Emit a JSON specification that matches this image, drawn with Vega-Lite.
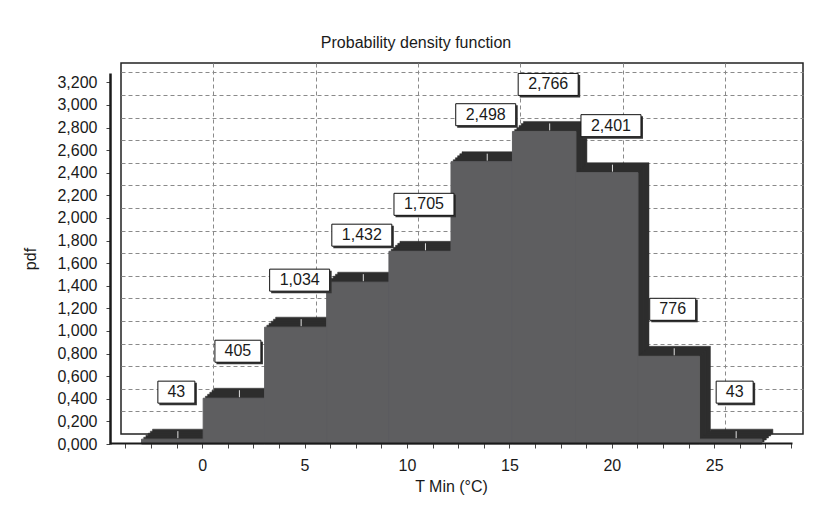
{
  "$schema": "https://vega.github.io/schema/vega-lite/v6.json",
  "width": 682,
  "height": 371,
  "autosize": "none",
  "padding": {"left": 121, "top": 63, "right": 11, "bottom": 80},
  "background": "white",
  "title": {
    "text": "Probability density function",
    "anchor": "middle",
    "dx": -46,
    "offset": 12,
    "fontSize": 16,
    "fontWeight": "normal",
    "font": "Liberation Sans",
    "color": "#1a1a1a"
  },
  "config": {
    "view": {"stroke": "#222", "strokeWidth": 1.5},
    "font": "Liberation Sans",
    "axis": {
      "labelFont": "Liberation Sans",
      "titleFont": "Liberation Sans",
      "labelFontSize": 16,
      "titleFontSize": 16,
      "titleFontWeight": "normal",
      "labelColor": "#1a1a1a",
      "titleColor": "#1a1a1a"
    }
  },
  "data": {
    "values": [
      {"x0": -2.96, "x1": 0.05, "mid": -1.455, "pdf": 0.043, "label": "43"},
      {"x0": 0.05, "x1": 3.05, "mid": 1.55, "pdf": 0.405, "label": "405"},
      {"x0": 3.05, "x1": 6.08, "mid": 4.565, "pdf": 1.034, "label": "1,034"},
      {"x0": 6.08, "x1": 9.12, "mid": 7.6, "pdf": 1.432, "label": "1,432"},
      {"x0": 9.12, "x1": 12.15, "mid": 10.635, "pdf": 1.705, "label": "1,705"},
      {"x0": 12.15, "x1": 15.15, "mid": 13.65, "pdf": 2.498, "label": "2,498"},
      {"x0": 15.15, "x1": 18.25, "mid": 16.7, "pdf": 2.766, "label": "2,766"},
      {"x0": 18.25, "x1": 21.28, "mid": 19.765, "pdf": 2.401, "label": "2,401"},
      {"x0": 21.28, "x1": 24.28, "mid": 22.78, "pdf": 0.776, "label": "776"},
      {"x0": 24.28, "x1": 27.33, "mid": 25.805, "pdf": 0.043, "label": "43"}
    ]
  },
  "resolve": {"axis": {"x": "independent", "y": "independent"}},
  "layer": [
    {
      "mark": {"type": "rect", "color": "#2e2e2e", "stroke": "#2e2e2e", "strokeWidth": 0.5},
      "encoding": {
        "x": {"field": "x0", "type": "quantitative", "scale": {"domain": [-4.5, 28.8], "nice": false, "zero": false},
          "axis": {"orient": "bottom", "grid": true, "values": [0, 5, 10, 15, 20, 25], "gridDash": [4, 3], "gridColor": "#8a8a8a", "gridWidth": 1, "gridOpacity": 1, "domain": false, "ticks": false, "labels": false, "title": null, "zindex": 0}},
        "x2": {"field": "x1"},
        "y": {"field": "pdf", "type": "quantitative", "scale": {"domain": [0, 3.283], "nice": false, "zero": false},
          "axis": {"orient": "left", "grid": true, "values": [0.2, 0.4, 0.6, 0.8, 1.0, 1.2, 1.4, 1.6, 1.8, 2.0, 2.2, 2.4, 2.6, 2.8, 3.0, 3.2], "gridDash": [4, 3], "gridColor": "#8a8a8a", "gridWidth": 1, "gridOpacity": 1, "domain": false, "ticks": false, "labels": false, "title": null, "zindex": 0}},
        "y2": {"datum": 0}
      }
    },
    {
      "mark": {"type": "rect", "color": "#2e2e2e", "stroke": "#2e2e2e", "strokeWidth": 0.5, "xOffset": -2.2, "x2Offset": -2.2, "yOffset": 2, "y2Offset": 2},
      "encoding": {
        "x": {"field": "x0", "type": "quantitative", "scale": {"domain": [-4.5, 28.8], "nice": false, "zero": false}, "axis": null},
        "x2": {"field": "x1"},
        "y": {"field": "pdf", "type": "quantitative", "scale": {"domain": [0, 3.283], "nice": false, "zero": false}, "axis": null},
        "y2": {"datum": 0}
      }
    },
    {
      "mark": {"type": "rect", "color": "#2e2e2e", "stroke": "#2e2e2e", "strokeWidth": 0.5, "xOffset": -4.4, "x2Offset": -4.4, "yOffset": 4, "y2Offset": 4},
      "encoding": {
        "x": {"field": "x0", "type": "quantitative", "scale": {"domain": [-4.5, 28.8], "nice": false, "zero": false}, "axis": null},
        "x2": {"field": "x1"},
        "y": {"field": "pdf", "type": "quantitative", "scale": {"domain": [0, 3.283], "nice": false, "zero": false}, "axis": null},
        "y2": {"datum": 0}
      }
    },
    {
      "mark": {"type": "rect", "color": "#2e2e2e", "stroke": "#2e2e2e", "strokeWidth": 0.5, "xOffset": -6.6, "x2Offset": -6.6, "yOffset": 6, "y2Offset": 6},
      "encoding": {
        "x": {"field": "x0", "type": "quantitative", "scale": {"domain": [-4.5, 28.8], "nice": false, "zero": false}, "axis": null},
        "x2": {"field": "x1"},
        "y": {"field": "pdf", "type": "quantitative", "scale": {"domain": [0, 3.283], "nice": false, "zero": false}, "axis": null},
        "y2": {"datum": 0}
      }
    },
    {
      "mark": {"type": "rect", "color": "#2e2e2e", "stroke": "#2e2e2e", "strokeWidth": 0.5, "xOffset": -8.8, "x2Offset": -8.8, "yOffset": 8, "y2Offset": 8},
      "encoding": {
        "x": {"field": "x0", "type": "quantitative", "scale": {"domain": [-4.5, 28.8], "nice": false, "zero": false}, "axis": null},
        "x2": {"field": "x1"},
        "y": {"field": "pdf", "type": "quantitative", "scale": {"domain": [0, 3.283], "nice": false, "zero": false}, "axis": null},
        "y2": {"datum": 0}
      }
    },
    {
      "mark": {"type": "rect", "color": "#5e5e60", "stroke": "#5e5e60", "strokeWidth": 1, "xOffset": -11, "x2Offset": -11, "yOffset": 10, "y2Offset": 10},
      "encoding": {
        "x": {"field": "x0", "type": "quantitative", "scale": {"domain": [-4.5, 28.8], "nice": false, "zero": false},
          "axis": {"orient": "bottom", "position": -11, "offset": 9, "grid": false, "zindex": 1,
            "values": [-3.75, -2.5, -1.25, 0, 1.25, 2.5, 3.75, 5, 6.25, 7.5, 8.75, 10, 11.25, 12.5, 13.75, 15, 16.25, 17.5, 18.75, 20, 21.25, 22.5, 23.75, 25, 26.25, 27.5, 28.75],
            "labelExpr": "datum.value % 5 == 0 ? format(datum.value, 'd') : ''",
            "domainColor": "#1a1a1a", "domainWidth": 2, "tickColor": "#444", "tickSize": 5, "labelPadding": 9,
            "title": "T Min (°C)", "titlePadding": 5}},
        "x2": {"field": "x1"},
        "y": {"field": "pdf", "type": "quantitative", "scale": {"domain": [0, 3.283], "nice": false, "zero": false},
          "axis": {"orient": "left", "position": 10, "offset": 11, "grid": false, "zindex": 1,
            "values": [0, 0.2, 0.4, 0.6, 0.8, 1.0, 1.2, 1.4, 1.6, 1.8, 2.0, 2.2, 2.4, 2.6, 2.8, 3.0, 3.2],
            "labelExpr": "replace(format(datum.value, '.3f'), '.', ',')",
            "domainColor": "#1a1a1a", "domainWidth": 2.5, "tickColor": "#444", "tickSize": 4, "labelPadding": 9,
            "title": "pdf", "titlePadding": 18}},
        "y2": {"datum": 0}
      }
    },
    {
      "mark": {"type": "rule", "color": "#e0e0e0", "strokeWidth": 1, "xOffset": -5.5, "yOffset": 9, "y2Offset": 2},
      "encoding": {
        "x": {"field": "mid", "type": "quantitative", "scale": {"domain": [-4.5, 28.8], "nice": false, "zero": false}, "axis": null},
        "y": {"field": "pdf", "type": "quantitative", "scale": {"domain": [0, 3.283], "nice": false, "zero": false}, "axis": null},
        "y2": {"field": "pdf"}
      }
    },
    {
      "transform": [{"filter": "length(datum.label) == 2"}],
      "mark": {"type": "rect", "color": "#333", "xOffset": -24, "x2Offset": 13.5, "yOffset": -46.5, "y2Offset": -24},
      "encoding": {
        "x": {"field": "mid", "type": "quantitative", "scale": {"domain": [-4.5, 28.8], "nice": false, "zero": false}, "axis": null},
        "x2": {"field": "mid"},
        "y": {"field": "pdf", "type": "quantitative", "scale": {"domain": [0, 3.283], "nice": false, "zero": false}, "axis": null},
        "y2": {"field": "pdf"}
      }
    },
    {
      "transform": [{"filter": "length(datum.label) == 2"}],
      "mark": {"type": "rect", "fill": "white", "stroke": "#111", "strokeWidth": 1, "xOffset": -25.5, "x2Offset": 11.5, "yOffset": -48, "y2Offset": -26},
      "encoding": {
        "x": {"field": "mid", "type": "quantitative", "scale": {"domain": [-4.5, 28.8], "nice": false, "zero": false}, "axis": null},
        "x2": {"field": "mid"},
        "y": {"field": "pdf", "type": "quantitative", "scale": {"domain": [0, 3.283], "nice": false, "zero": false}, "axis": null},
        "y2": {"field": "pdf"}
      }
    },
    {
      "transform": [{"filter": "length(datum.label) == 3"}],
      "mark": {"type": "rect", "color": "#333", "xOffset": -28.5, "x2Offset": 18, "yOffset": -46.5, "y2Offset": -24},
      "encoding": {
        "x": {"field": "mid", "type": "quantitative", "scale": {"domain": [-4.5, 28.8], "nice": false, "zero": false}, "axis": null},
        "x2": {"field": "mid"},
        "y": {"field": "pdf", "type": "quantitative", "scale": {"domain": [0, 3.283], "nice": false, "zero": false}, "axis": null},
        "y2": {"field": "pdf"}
      }
    },
    {
      "transform": [{"filter": "length(datum.label) == 3"}],
      "mark": {"type": "rect", "fill": "white", "stroke": "#111", "strokeWidth": 1, "xOffset": -30, "x2Offset": 16, "yOffset": -48, "y2Offset": -26},
      "encoding": {
        "x": {"field": "mid", "type": "quantitative", "scale": {"domain": [-4.5, 28.8], "nice": false, "zero": false}, "axis": null},
        "x2": {"field": "mid"},
        "y": {"field": "pdf", "type": "quantitative", "scale": {"domain": [0, 3.283], "nice": false, "zero": false}, "axis": null},
        "y2": {"field": "pdf"}
      }
    },
    {
      "transform": [{"filter": "length(datum.label) == 5"}],
      "mark": {"type": "rect", "color": "#333", "xOffset": -35.5, "x2Offset": 25, "yOffset": -46.5, "y2Offset": -24},
      "encoding": {
        "x": {"field": "mid", "type": "quantitative", "scale": {"domain": [-4.5, 28.8], "nice": false, "zero": false}, "axis": null},
        "x2": {"field": "mid"},
        "y": {"field": "pdf", "type": "quantitative", "scale": {"domain": [0, 3.283], "nice": false, "zero": false}, "axis": null},
        "y2": {"field": "pdf"}
      }
    },
    {
      "transform": [{"filter": "length(datum.label) == 5"}],
      "mark": {"type": "rect", "fill": "white", "stroke": "#111", "strokeWidth": 1, "xOffset": -37, "x2Offset": 23, "yOffset": -48, "y2Offset": -26},
      "encoding": {
        "x": {"field": "mid", "type": "quantitative", "scale": {"domain": [-4.5, 28.8], "nice": false, "zero": false}, "axis": null},
        "x2": {"field": "mid"},
        "y": {"field": "pdf", "type": "quantitative", "scale": {"domain": [0, 3.283], "nice": false, "zero": false}, "axis": null},
        "y2": {"field": "pdf"}
      }
    },
    {
      "mark": {"type": "text", "fontSize": 16, "font": "Liberation Sans", "color": "#1a1a1a", "align": "center", "baseline": "middle", "dx": -7, "dy": -37},
      "encoding": {
        "x": {"field": "mid", "type": "quantitative", "scale": {"domain": [-4.5, 28.8], "nice": false, "zero": false}, "axis": null},
        "y": {"field": "pdf", "type": "quantitative", "scale": {"domain": [0, 3.283], "nice": false, "zero": false}, "axis": null},
        "text": {"field": "label", "type": "nominal"}
      }
    }
  ]
}
